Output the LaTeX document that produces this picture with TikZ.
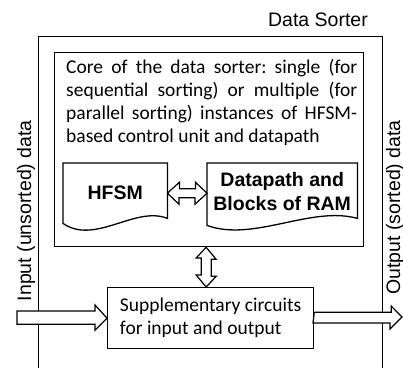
\documentclass[tikz,border=0pt]{standalone}
\usepackage{fontspec}
\setmainfont{Carlito}
\newfontfamily\arialfont{Liberation Sans}
\usetikzlibrary{positioning,calc}
\frenchspacing

\tikzset{
  box/.style={draw, line width=1.3pt, inner sep=0pt},
  docbox/.style={inner sep=0pt, align=center, font=\arialfont\bfseries\fontsize{19.5}{24}\selectfont},
  hollow/.style={draw, line width=1.2pt, fill=white},
  arialtext/.style={inner sep=0pt, font=\arialfont\fontsize{19.5}{23}\selectfont},
  sidelabel/.style={arialtext, rotate=90, anchor=base east},
}

\begin{document}
\begin{tikzpicture}[x=1pt, y=-1pt]
	\useasboundingbox (0,0) rectangle (403,367);
	% Outer and inner boxes
	\node [box, minimum width=344pt, minimum height=350pt, anchor=north west] (sorter) at (38,36) {};
	\node [arialtext, anchor=base east] (title) at (368,26) {Data Sorter};
	\node [box, minimum width=309pt, minimum height=194pt, anchor=north west] (core) at (54,52) {};
	\node [inner sep=0pt, text width=291pt, align=justify, anchor=north west,
	       font=\fontsize{19.5}{23}\selectfont] (corelbl) at (66,59.5)
	      {Core of the data sorter: single (for sequential sorting) or multiple (for parallel sorting) instances of HFSM-based control unit and datapath};
	\node [box, minimum width=206pt, minimum height=61pt, anchor=north west, align=left,
	       font=\fontsize{19.5}{23}\selectfont] (supp) at (107,287)
	      {Supplementary circuits\\for input and output};
	
	% Document shapes
	\node [docbox, minimum width=104pt, minimum height=60pt, anchor=north west] (hfsm) at (63,163) {HFSM};
	\node [docbox, minimum width=150pt, minimum height=56pt, anchor=north west] (data) at (207,163) {Datapath and\\Blocks of RAM};
	\draw [box] ([yshift=5pt]hfsm.south east) -- (hfsm.north east) -- (hfsm.north west) -- (hfsm.south west)
		.. controls +(32,22) and +(-32,-13) .. ([yshift=5pt]hfsm.south east) -- cycle;
	\draw [box] ([yshift=1pt]data.south east) -- (data.north east) -- (data.north west) -- ([yshift=-6pt]data.south west)
		.. controls +(46,17) and +(-46,-13) .. ([yshift=1pt]data.south east) -- cycle;
	
	% Side labels
	\node [sidelabel] (inlbl) at (31,120) {Input (unsorted) data};
	\node [sidelabel] (outlbl) at (400,120) {Output (sorted) data};
	
	% Hollow arrows
	\coordinate (inp) at (17,317);
	\coordinate (outp) at (402,317);
	\coordinate (vtop) at ([xshift=-3pt]core.south);
	\draw [hollow] (inp) ++(0,-6) -- ++(78,0) -- ++(0,-6) -- (supp.west) -- ++(-12,12) -- ++(0,-6) -- ++(-78,0) -- cycle;
	\draw [hollow] (supp.east) ++(0,-6) -- ++(77,0) -- ++(0,-6) -- (outp) -- ++(-12,12) -- ++(0,-6) -- ++(-77,0) -- cycle;
	\draw [hollow] (hfsm.east) -- ++(12,-11) -- ++(0,6.5) -- ++(16,0) -- ++(0,-6.5) -- (data.west |- hfsm.east)
		-- ++(-12,11) -- ++(0,-6.5) -- ++(-16,0) -- ++(0,6.5) -- cycle;
	\draw [hollow] (vtop) -- ++(10,12) -- ++(-5,0) -- ++(0,17) -- ++(5,0) -- (vtop |- supp.north)
		-- ++(-10,-12) -- ++(5,0) -- ++(0,-17) -- ++(-5,0) -- cycle;
\end{tikzpicture}
\end{document}
